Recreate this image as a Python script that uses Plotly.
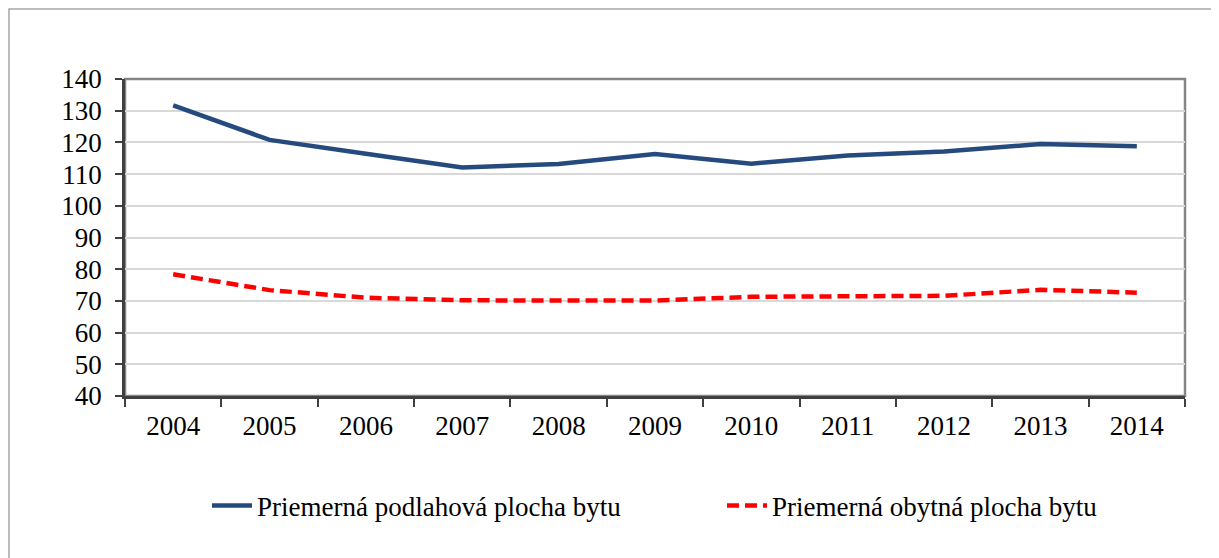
import plotly.graph_objects as go

years = ["2004", "2005", "2006", "2007", "2008", "2009", "2010", "2011", "2012", "2013", "2014"]
podlahova = [131.7, 120.8, 116.4, 112.1, 113.2, 116.3, 113.3, 115.9, 117.1, 119.5, 118.8]
obytna = [78.4, 73.4, 71.0, 70.2, 70.1, 70.1, 71.3, 71.6, 71.6, 73.5, 72.6]
name_podlahova = "Priemerná podlahová plocha bytu"
name_obytna = "Priemerná obytná plocha bytu"

FONT = "Liberation Serif, Times New Roman, serif"
FS = 27

fig = go.Figure()
fig.add_trace(go.Scatter(x=years, y=podlahova, mode="lines", name=name_podlahova,
                         line=dict(color="#254A7E", width=4.5)))
fig.add_trace(go.Scatter(x=years, y=obytna, mode="lines", name=name_obytna,
                         line=dict(color="#FF0000", width=4.5, dash="12px,6px")))

# page offset (body margin) of 8px
OFF = 8
W, H = 1219 - OFF, 558 - OFF
PL, PR, PT, PB = 125, 1185, 79, 396  # plot area in page pixels
L, R, T, B = PL - OFF, (W + OFF) - PR, PT - OFF, (H + OFF) - PB
pw, ph = PR - PL, PB - PT


def px(xp):
    return (xp - PL) / pw


def py(yp):
    return (PB - yp) / ph


fig.update_layout(
    width=W, height=H,
    margin=dict(l=L, r=R, t=T, b=B, autoexpand=False),
    paper_bgcolor="white", plot_bgcolor="white",
    font=dict(family=FONT, size=FS, color="#000000"),
    showlegend=True,
    legend=dict(orientation="h", x=px(207), xanchor="left",
                y=py(506), yanchor="middle",
                font=dict(family=FONT, size=FS, color="#000000"),
                entrywidth=460, bgcolor="rgba(0,0,0,0)", itemwidth=40),
    xaxis=dict(type="category", tickson="boundaries", ticks="outside", ticklen=8,
               range=[-0.5, len(years) - 0.5],
               tickcolor="#404040", tickwidth=1.5, showgrid=False,
               showline=True, linecolor="#404040", linewidth=2.5,
               tickfont=dict(family=FONT, size=FS), ticklabelstandoff=4),
    yaxis=dict(range=[40, 140], dtick=10, tick0=40, ticks="outside", ticklen=7,
               tickcolor="#404040", tickwidth=1.5, showgrid=True,
               gridcolor="#D9D9D9", gridwidth=1.5,
               showline=True, linecolor="#404040", linewidth=2.5,
               tickfont=dict(family=FONT, size=FS), ticklabelstandoff=8,
               zeroline=False),
    shapes=[
        dict(type="rect", xref="paper", yref="paper", x0=0, x1=1, y0=0, y1=1,
             line=dict(color="#868686", width=2.5), layer="below"),
        dict(type="rect", xref="paper", yref="paper",
             x0=px(9), x1=px(1240), y0=py(580), y1=py(9),
             line=dict(color="#A6A6A6", width=1.5), layer="below"),
    ],
)

fig.write_html("out.html")
